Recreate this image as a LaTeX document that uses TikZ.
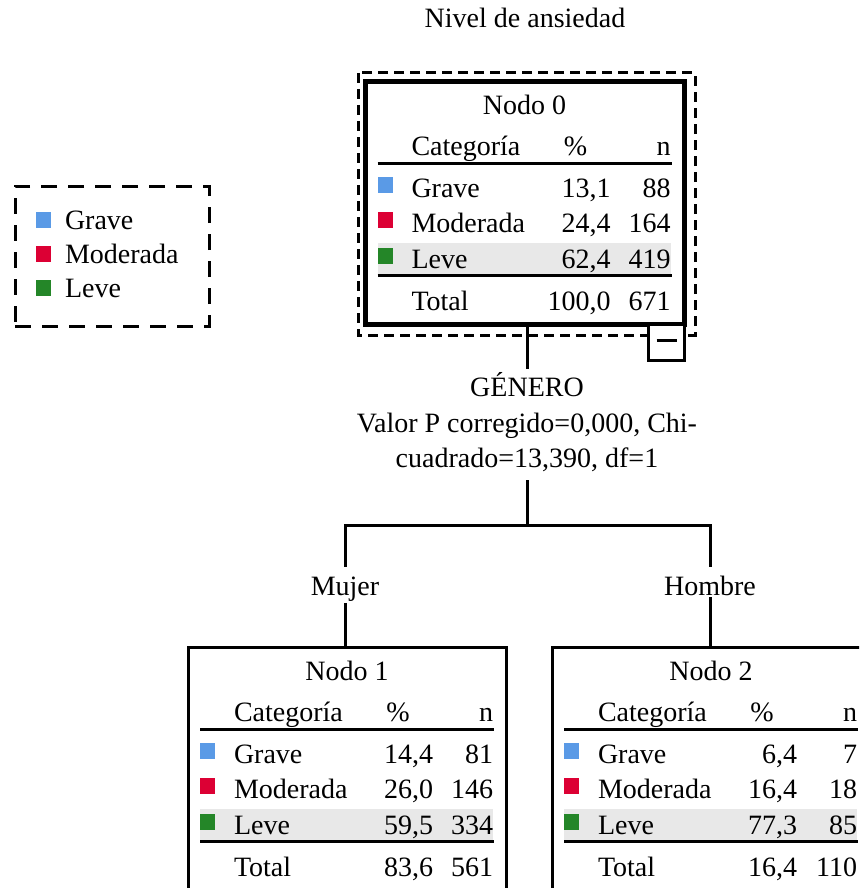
\documentclass[tikz,border=0pt]{standalone}
\usepackage{fontspec}
\setmainfont{Liberation Serif}

\definecolor{catblue}{HTML}{5A9AE6}
\definecolor{catred}{HTML}{DC0034}
\definecolor{catgreen}{HTML}{248628}
\definecolor{bandgray}{HTML}{E8E8E8}

\tikzset{
  txt/.style={inner sep=0pt, outer sep=0pt, font=\fontsize{28}{34}\selectfont},
  treebox/.style={draw, line width=3pt, outer sep=0pt, inner sep=0pt,
    minimum width=318pt, minimum height=243pt, anchor=north west},
  rootbox/.style={treebox, line width=4.5pt, minimum width=319pt},
  tablerule/.style={line width=3pt},
  conn/.style={line width=3pt},
  swatch/.style={inner sep=0pt, outer sep=0pt, minimum width=15pt,
    minimum height=16pt, anchor=south west},
  selframe/.style={line width=3pt, dash pattern=on 10pt off 6pt},
  legendframe/.style={draw, line width=3pt, dash pattern=on 16pt off 11pt,
    outer sep=0pt, inner sep=0pt, anchor=north west,
    minimum width=194pt, minimum height=140pt},
}

% one category row of a node table: box index, row tag, baseline, colour, label, %, n
\newcommand\catrow[7]{%
  \node[swatch, fill=#4] (sw#1#2) at (12,#3-5) {};
  \node[txt, anchor=base west] (lab#1#2) at (46,#3) {#5};
  \node[txt, anchor=base east] (pct#1#2) at (245,#3) {#6};
  \node[txt, anchor=base east] (cnt#1#2) at (305,#3) {#7};
}

% contents of a tree node box: index, then Grave %/n, Moderada %/n, Leve %/n, Total %/n
\newcommand\treetable[9]{%
  \begin{scope}[shift={(node#1.north west)}]
    \fill[bandgray] (12,161.5) rectangle (305,192);
    \draw[tablerule] (12,81.5) -- (306,81.5);
    \draw[tablerule] (12,194) -- (306,194);
    \node[txt, anchor=base] (title#1) at (159,32.5) {Nodo #1};
    \node[txt, anchor=base west] (cathead#1) at (46,73.5) {Categoría};
    \node[txt, anchor=base] (pcthead#1) at (210,73.5) {\%};
    \node[txt, anchor=base east] (cnthead#1) at (305,73.5) {n};
    \catrow{#1}{g}{116}{catblue}{Grave}{#2}{#3}
    \catrow{#1}{m}{151}{catred}{Moderada}{#4}{#5}
    \catrow{#1}{l}{187}{catgreen}{Leve}{#6}{#7}
    \node[txt, anchor=base west] (tot#1) at (46,228.5) {Total};
    \node[txt, anchor=base east] (totpct#1) at (245,228.5) {#8};
    \node[txt, anchor=base east] (totcnt#1) at (305,228.5) {#9};
  \end{scope}%
}

\begin{document}
\begin{tikzpicture}[x=1pt, y=-1pt]
  \useasboundingbox (0,0) rectangle (859,888);
  \clip (0,0) rectangle (859,888);
  \fill[white] (0,0) rectangle (859,888);

  % heading
  \node[txt, anchor=base] (heading) at (525,28) {Nivel de ansiedad};

  % legend
  \node[legendframe] (legend) at (15,186) {};
  \node[swatch, fill=catblue]  (legsw1) at (36,228) {};
  \node[swatch, fill=catred]   (legsw2) at (36,262) {};
  \node[swatch, fill=catgreen] (legsw3) at (36,296) {};
  \node[txt, anchor=base west] (leg1) at (65,229) {Grave};
  \node[txt, anchor=base west] (leg2) at (65,263) {Moderada};
  \node[txt, anchor=base west] (leg3) at (65,297) {Leve};

  % root node
  \node[rootbox] (node0) at (365.5,81.5) {};
  \treetable{0}{13,1}{88}{24,4}{164}{62,4}{419}{100,0}{671}
  \draw[selframe] ([shift={(-7.5,-8.5)}]node0.north west)
    rectangle ([shift={(10.5,10.5)}]node0.south east);
  \node[draw, line width=3pt, fill=white, minimum size=36pt, inner sep=0pt,
    outer sep=0pt, anchor=north east] (collapse) at (node0.south east) {};
  \draw[line width=3pt] ([xshift=-10pt,yshift=2pt]collapse.center)
    -- ([xshift=10pt,yshift=2pt]collapse.center);

  % split description
  \node[txt, anchor=base] (gen)  at (527,396) {GÉNERO};
  \node[txt, anchor=base] (pval) at (527,432) {Valor P corregido=0,000, Chi-};
  \node[txt, anchor=base] (chi)  at (527,467) {cuadrado=13,390, df=1};
  \coordinate (fork) at (527,525);

  % branch labels
  \node[txt, anchor=base] (mujer)  at (345,595) {Mujer};
  \node[txt, anchor=base] (hombre) at (710,595) {Hombre};

  % child nodes
  \node[treebox] (node1) at (188,647.5) {};
  \treetable{1}{14,4}{81}{26,0}{146}{59,5}{334}{83,6}{561}
  \node[treebox] (node2) at (552,647.5) {};
  \treetable{2}{6,4}{7}{16,4}{18}{77,3}{85}{16,4}{110}

  % connectors
  \draw[conn, shorten >=3pt] (gen.north |- node0.south) -- (gen.north);
  \draw[conn, shorten <=9pt] (chi.south) -- (fork);
  \draw[conn, shorten >=9pt] (fork) -| (mujer.north);
  \draw[conn, shorten >=9pt] (fork) -| (hombre.north);
  \draw[conn, shorten <=2pt] (mujer.south) -- (mujer.south |- node1.north);
  \draw[conn, shorten <=2pt] (hombre.south) -- (hombre.south |- node2.north);
\end{tikzpicture}
\end{document}
